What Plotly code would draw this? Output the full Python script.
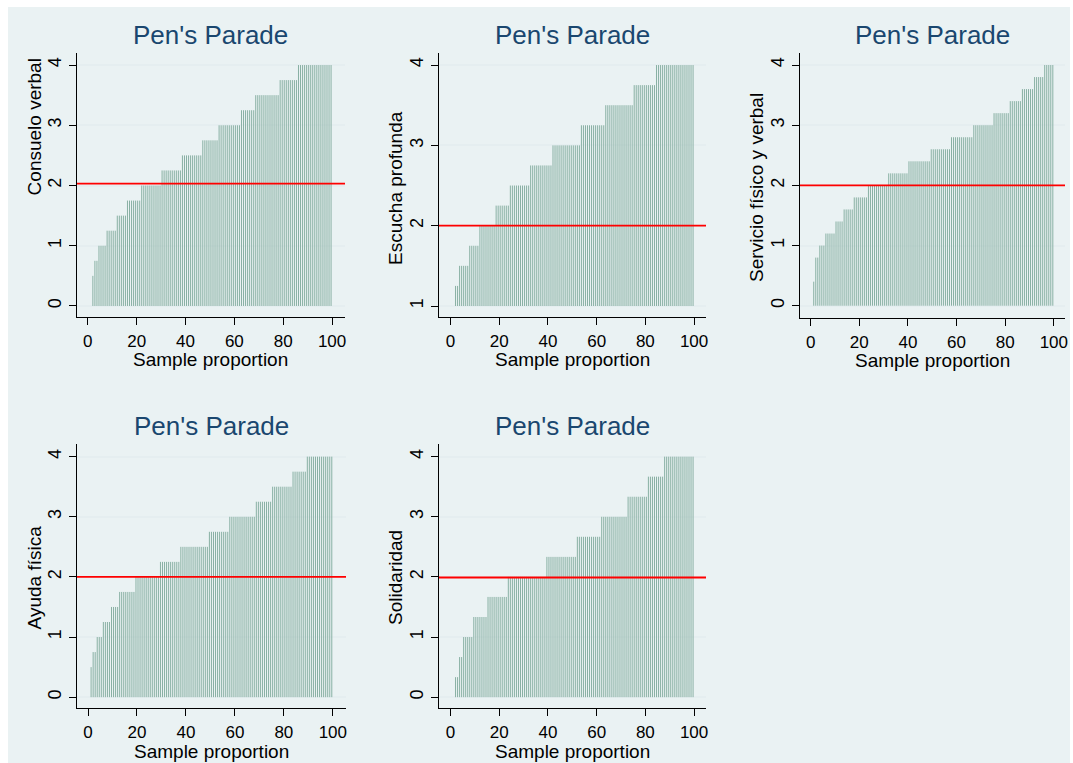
import plotly.graph_objects as go

W, H = 1073, 763

TITLE = "Pen's Parade"
X_TITLE = "Sample proportion"
Y_TITLES = ["Consuelo verbal", "Escucha profunda", "Servicio físico y verbal",
            "Ayuda física", "Solidaridad"]

# step levels (sorted values) and number of observations at each level
LEVELS_1 = [0, 0.5, 0.75, 1, 1.25, 1.5, 1.75, 2, 2.25, 2.5, 2.75, 3, 3.25, 3.5, 3.75, 4]
COUNTS_1 = [2, 1, 2, 4, 5, 5, 7, 10, 10, 10, 8, 11, 7, 12, 9, 17]

LEVELS_2 = [1, 1.25, 1.5, 1.75, 2, 2.25, 2.5, 2.75, 3, 3.25, 3.5, 3.75, 4]
COUNTS_2 = [2, 2, 5, 5, 8, 7, 10, 11, 14, 12, 14, 11, 19]

LEVELS_3 = [0, 0.4, 0.8, 1.0, 1.2, 1.4, 1.6, 1.8, 2.0, 2.2, 2.4, 2.6, 2.8, 3.0,
            3.2, 3.4, 3.6, 3.8, 4.0]
COUNTS_3 = [1, 1, 2, 3, 5, 4, 5, 7, 10, 10, 11, 10, 11, 10, 8, 6, 6, 5, 5]

LEVELS_4 = [0, 0.5, 0.75, 1, 1.25, 1.5, 1.75, 2, 2.25, 2.5, 2.75, 3, 3.25, 3.5, 3.75, 4]
COUNTS_4 = [1, 1, 2, 3, 4, 4, 8, 12, 10, 14, 10, 13, 8, 10, 7, 13]

LEVELS_5 = [0, 0.333, 0.667, 1, 1.333, 1.667, 2, 2.333, 2.667, 3, 3.333, 3.667, 4]
COUNTS_5 = [2, 2, 2, 5, 7, 10, 19, 15, 12, 13, 10, 8, 15]

REF_LINES = [2.03, 2.0, 2.0, 2.0, 1.99]
BASES = [0, 1, 0, 0, 0]

X_TICKS = [0, 20, 40, 60, 80, 100]
Y_TICKS = [[0, 1, 2, 3, 4], [1, 2, 3, 4], [0, 1, 2, 3, 4], [0, 1, 2, 3, 4], [0, 1, 2, 3, 4]]

PANELS = [(LEVELS_1, COUNTS_1), (LEVELS_2, COUNTS_2), (LEVELS_3, COUNTS_3),
          (LEVELS_4, COUNTS_4), (LEVELS_5, COUNTS_5)]

# layout (pixel boxes: left, right, top, bottom) and axis ranges
BOXES = [(77, 346, 53, 317), (440, 708, 53, 317), (802, 1068, 53, 318),
         (77, 347, 444, 708), (440, 708, 444, 708)]
XRANGES = [[-4.5, 105.3], [-4.8, 104.9], [-4.5, 104.6], [-4.6, 105.4], [-4.8, 104.9]]
YRANGES = [[-0.183, 4.2], [0.863, 4.15], [-0.204, 4.2], [-0.18, 4.21], [-0.18, 4.21]]
YTITLE_POS = [(34.5, 127), (396, 188), (758, 187), (34.5, 577), (396, 577)]

FONT = "Liberation Sans, Arial, sans-serif"
SPIKE_COLOR = "rgb(136,176,163)"
GRID_COLOR = "#e5eef0"
TITLE_COLOR = "#1a476f"
BG = "#eaf2f3"

fig = go.Figure()
annotations = []

for k, (levels, counts) in enumerate(PANELS):
    n = sum(counts)
    values = []
    for lv, c in zip(levels, counts):
        values.extend([lv] * c)
    xs, ys = [], []
    for i, v in enumerate(values):
        xp = (i + 0.5) / n * 100
        xs += [xp, xp, None]
        ys += [BASES[k], v, None]
    ax = "" if k == 0 else str(k + 1)
    fig.add_trace(go.Scatter(x=xs, y=ys, mode="lines",
                             line=dict(color=SPIKE_COLOR, width=1),
                             xaxis="x" + ax, yaxis="y" + ax,
                             showlegend=False, hoverinfo="skip"))
    fig.add_trace(go.Scatter(x=XRANGES[k], y=[REF_LINES[k], REF_LINES[k]], mode="lines",
                             line=dict(color="#ff0000", width=1.8),
                             xaxis="x" + ax, yaxis="y" + ax,
                             showlegend=False, hoverinfo="skip"))
    l, r, t, b = BOXES[k]
    xdom = [l / W, r / W]
    ydom = [1 - b / H, 1 - t / H]
    fig.layout["xaxis" + ax] = dict(
        domain=xdom, range=XRANGES[k], anchor="y" + ax,
        tickvals=X_TICKS, showgrid=False, zeroline=False,
        showline=True, linecolor="black", linewidth=1.3,
        ticks="outside", ticklen=7, tickwidth=1.3, tickcolor="black",
        tickfont=dict(family=FONT, size=17, color="black"),
        ticklabelstandoff=1, fixedrange=True)
    fig.layout["yaxis" + ax] = dict(
        domain=ydom, range=YRANGES[k], anchor="x" + ax,
        tickvals=Y_TICKS[k], showgrid=True, gridcolor=GRID_COLOR, gridwidth=1.5,
        zeroline=False, showline=True, linecolor="black", linewidth=1.3,
        ticks="outside", ticklen=7, tickwidth=1.3, tickcolor="black",
        tickangle=-90, tickfont=dict(family=FONT, size=18, color="black"),
        ticklabelstandoff=0, fixedrange=True)
    cx = (l + r) / 2 / W
    annotations.append(dict(text=TITLE, x=cx, y=1 - 35 / H - (t - 53) / H,
                            xref="paper", yref="paper", showarrow=False,
                            xanchor="center", yanchor="middle",
                            font=dict(family=FONT, size=26, color=TITLE_COLOR)))
    annotations.append(dict(text=X_TITLE, x=cx, y=1 - (b + 43) / H,
                            xref="paper", yref="paper", showarrow=False,
                            xanchor="center", yanchor="middle",
                            font=dict(family=FONT, size=19, color="black")))
    yx, yy = YTITLE_POS[k]
    annotations.append(dict(text=Y_TITLES[k], x=yx / W, y=1 - yy / H,
                            xref="paper", yref="paper", showarrow=False,
                            xanchor="center", yanchor="middle", textangle=-90,
                            font=dict(family=FONT, size=19, color="black")))

fig.update_layout(
    width=W, height=H, margin=dict(l=0, r=0, t=0, b=0),
    paper_bgcolor="white", plot_bgcolor="white",
    annotations=annotations,
    shapes=[dict(type="rect", xref="paper", yref="paper",
                 x0=8 / W, x1=1, y0=0, y1=1 - 7 / H,
                 fillcolor=BG, line=dict(width=0), layer="below")],
)

fig.write_html("out.html")
